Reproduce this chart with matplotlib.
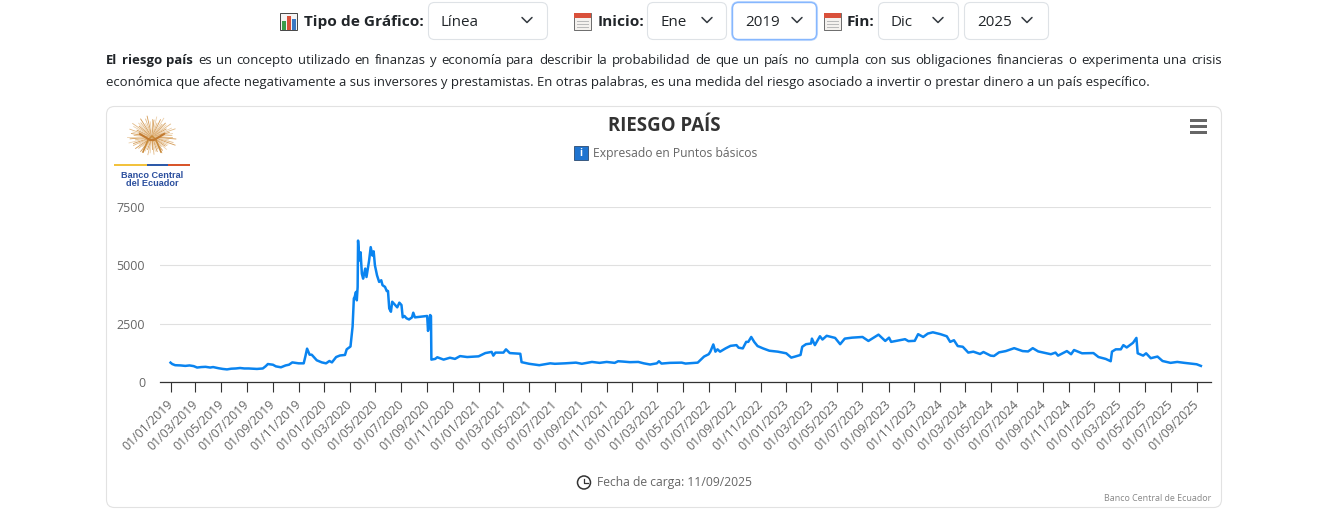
import matplotlib
matplotlib.use("Agg")
import matplotlib.pyplot as plt
from matplotlib.patches import FancyBboxPatch, Rectangle, Circle
from matplotlib.transforms import ScaledTranslation
from datetime import date
import math

plt.rcParams['font.family'] = ['Open Sans', 'DejaVu Sans']

# ---------- data ----------
series_2019 = [("2019-01-01",830),("2019-01-05",770),("2019-01-12",720),("2019-01-25",710),("2019-02-05",690),("2019-02-15",710),("2019-02-25",680),
 ("2019-03-05",620),("2019-03-15",640),("2019-03-25",650),("2019-04-05",620),("2019-04-12",640),("2019-04-25",590),("2019-05-05",560),("2019-05-15",540),
 ("2019-05-25",570),("2019-06-05",580),("2019-06-15",600),("2019-06-25",580),("2019-07-05",580),("2019-07-15",570),("2019-07-25",560),("2019-08-08",580),
 ("2019-08-15",680),("2019-08-20",770),("2019-09-01",740),("2019-09-08",670),("2019-09-20",630),("2019-10-01",710),("2019-10-09",740),("2019-10-17",840),
 ("2019-11-01",800),("2019-11-13",800),("2019-11-17",1100),("2019-11-21",1430),("2019-11-27",1170),("2019-12-02",1170),("2019-12-14",930),("2019-12-26",840)]
series_2020 = [("2020-01-05",800),("2020-01-13",900),("2020-01-19",840),("2020-01-29",1070),("2020-02-07",1136),("2020-02-19",1160),("2020-02-23",1400),
 ("2020-03-03",1520),("2020-03-08",2370),("2020-03-11",3580),("2020-03-13",3650),("2020-03-16",3860),("2020-03-18",3500),("2020-03-20",4070),("2020-03-21",6060),
 ("2020-03-24",5210),("2020-03-27",5560),("2020-03-30",4640),("2020-04-02",4430),("2020-04-07",4860),("2020-04-10",4500),("2020-04-16",5180),("2020-04-20",5780),
 ("2020-04-24",5420),("2020-04-27",5600),("2020-04-30",5000),("2020-05-05",4570),("2020-05-10",4290),("2020-05-15",4360),("2020-05-18",4150),("2020-05-24",4075),
 ("2020-05-28",3900),("2020-05-31",3900),("2020-06-03",3150),("2020-06-07",3010),("2020-06-10",3440),("2020-06-15",3340),("2020-06-22",3200),("2020-06-27",3400),
 ("2020-07-02",3300),("2020-07-05",2770),("2020-07-09",2830),("2020-07-14",2730),("2020-07-20",2680),("2020-07-27",2770),("2020-07-30",2970),("2020-08-03",2770),
 ("2020-09-01",2830),("2020-09-03",2190),("2020-09-05",2370),("2020-09-08",2870),("2020-09-10",2830),("2020-09-11",960),("2020-09-20",990),("2020-09-25",1060),
 ("2020-10-10",960),("2020-10-25",1040),("2020-11-06",990),("2020-11-18",1110),("2020-12-05",1070)]
series_2021 = [("2021-01-01",1100),("2021-01-17",1240),("2021-02-01",1290),("2021-02-05",1130),("2021-02-10",1260),("2021-03-01",1260),("2021-03-07",1400),
 ("2021-03-16",1240),("2021-04-10",1210),("2021-04-13",850),("2021-05-01",780),("2021-05-25",720),("2021-06-20",800),("2021-07-01",780),("2021-07-25",800),
 ("2021-08-20",830),("2021-09-03",780),("2021-09-27",860),("2021-10-15",820),("2021-11-01",860),("2021-11-20",820),("2021-11-28",890),("2021-12-10",875),("2021-12-26",850)]
series_2022 = [("2022-01-15",860),("2022-01-28",800),("2022-02-12",750),("2022-02-28",800),("2022-03-05",890),("2022-03-11",790),("2022-03-31",820),("2022-04-28",830),
 ("2022-05-07",790),("2022-06-05",830),("2022-06-12",950),("2022-06-20",1090),("2022-07-01",1190),("2022-07-05",1300),("2022-07-12",1610),("2022-07-17",1300),
 ("2022-07-22",1400),("2022-07-28",1300),("2022-08-10",1440),("2022-08-22",1550),("2022-09-05",1580),("2022-09-10",1470),("2022-09-20",1440),("2022-09-28",1720),
 ("2022-10-03",1720),("2022-10-10",1930),("2022-10-17",1720),("2022-10-25",1540),("2022-11-07",1440),("2022-11-22",1340),("2022-12-12",1300)]
series_2023 = [("2023-01-01",1230),("2023-01-13",1045),("2023-01-22",1090),("2023-02-04",1160),("2023-02-08",1510),("2023-02-17",1620),("2023-03-01",1650),("2023-03-03",1860),
 ("2023-03-10",1580),("2023-03-22",1960),("2023-03-28",1820),("2023-04-07",1980),("2023-04-27",1890),("2023-05-09",1620),("2023-05-20",1860),("2023-06-06",1900),
 ("2023-07-01",1930),("2023-07-15",1760),("2023-08-08",2030),("2023-08-24",1760),("2023-09-02",1900),("2023-09-07",1720),("2023-10-10",1835),("2023-10-18",1750),
 ("2023-11-02",1765),("2023-11-10",2050),("2023-11-22",1930),("2023-12-03",2075),("2023-12-15",2130)]
series_2024 = [("2024-01-02",2050),("2024-01-17",1960),("2024-01-25",1720),("2024-02-03",1790),("2024-02-12",1540),("2024-02-24",1510),("2024-03-08",1260),("2024-03-20",1300),
 ("2024-04-05",1200),("2024-04-13",1285),("2024-04-30",1130),("2024-05-08",1115),("2024-05-20",1270),("2024-06-05",1325),("2024-06-25",1450),("2024-07-15",1325),
 ("2024-07-28",1310),("2024-08-08",1450),("2024-08-21",1310),("2024-09-20",1190),("2024-10-01",1260),("2024-10-07",1130),("2024-10-28",1325),("2024-11-07",1190),
 ("2024-11-14",1370),("2024-12-03",1230),("2024-12-30",1240)]
series_2025 = [("2025-01-11",1070),("2025-01-28",990),("2025-02-09",890),("2025-02-12",1300),("2025-02-21",1400),("2025-03-05",1400),("2025-03-11",1580),("2025-03-19",1480),
 ("2025-04-03",1680),("2025-04-11",1890),("2025-04-14",1230),("2025-04-27",1130),("2025-05-04",1230),("2025-05-15",1020),("2025-05-31",1090),("2025-06-12",900),
 ("2025-07-01",820),("2025-07-17",860),("2025-08-03",820),("2025-09-01",760),("2025-09-11",690)]
x_tick_labels = [f"01/{m:02d}/{y}" for y in range(2019, 2026) for m in range(1, 13, 2) if not (y == 2025 and m > 9)]
y_ticks = [0, 2500, 5000, 7500]

W, H = 1343, 509
fig = plt.figure(figsize=(W/100, H/100), dpi=100, facecolor="white")
ui = fig.add_axes([0, 0, 1, 1], zorder=0)
ui.set_xlim(0, W); ui.set_ylim(H, 0); ui.axis("off")

def txt(x, y, s, size=10, color="#212529", ha="left", weight="normal", va="center", **kw):
    return ui.text(x, y + 1, s, fontsize=size, color=color, ha=ha, va=va, fontweight=weight, **kw)

def rbox(x0, y0, x1, y1, r=6, ec="#dee2e6", fc="white", lw=0.8, z=1):
    p = FancyBboxPatch((x0+r+0.5, y0+r+0.5), x1-x0-2*r-1, y1-y0-2*r-1, boxstyle=f"round,pad={r},rounding_size={r}",
                       ec=ec, fc=fc, lw=lw, zorder=z, mutation_aspect=1)
    ui.add_patch(p)

def chevron(x, y):
    ui.plot([x-5, x, x+5], [y-2.5, y+2.5, y-2.5], color="#343a40", lw=1.1, solid_capstyle="round", zorder=3)

def calendar(x, y):
    ui.add_patch(Rectangle((x, y-8), 17, 17, fc="#f4f1ee", ec="#555555", lw=0.6, zorder=3))
    ui.add_patch(Rectangle((x, y-8), 17, 5, fc="#d9503a", ec="none", zorder=4))
    for i in range(3):
        ui.plot([x+3, x+14], [y+i*3-0.5]*2, color="#b9b9b9", lw=0.7, zorder=4)

# selects
txt(304, 21, "Tipo de Gráfico:", 11.1, weight="bold")
ui.add_patch(Rectangle((280, 13), 17, 17, fc="#f4f4f4", ec="#444444", lw=0.7, zorder=3))
for bx, bh, bc in [(282, 9, "#3a9c4a"), (287, 14, "#d9503a"), (292, 11, "#3b78c2")]:
    ui.add_patch(Rectangle((bx, 29.5-bh), 3.8, bh, fc=bc, ec="none", zorder=4))
calendar(574, 21); txt(598, 21, "Inicio:", 11.1, weight="bold")
calendar(824, 21); txt(847, 21, "Fin:", 11.1, weight="bold")
ui.add_patch(FancyBboxPatch((736, 6), 77, 30, boxstyle="round,pad=4,rounding_size=7", fc="#c2dbfe", ec="#c2dbfe", lw=1.5, zorder=1))
selects = [(428, 548, "Línea", 527), (647, 727, "Ene", 707), (732, 817, "2019", 797), (878, 959, "Dic", 938), (964, 1049, "2025", 1027)]
for x0, x1, lab, cx in selects:
    focus = lab == "2019"
    rbox(x0, 2, x1, 40, ec="#86b7fe" if focus else "#dee2e6", lw=1.0 if focus else 0.8, z=2)
    txt(x0+13, 21, lab, 10.9, zorder=3)
    chevron(cx, 20)

# paragraph, justified first line
line1 = [("El", True), ("riesgo", True), ("país", True)] + [(w, False) for w in
    "es un concepto utilizado en finanzas y economía para describir la probabilidad de que un país no cumpla con sus obligaciones financieras o experimenta una crisis".split()]
PS = 9.45
r = fig.canvas.get_renderer()
items = [txt(0, 59, w, PS, weight="bold" if b else "normal") for w, b in line1]
widths = [t.get_window_extent(r).width for t in items]
gap = (1222 - 106 - sum(widths)) / (len(items) - 1)
xp = 106
for t, wd in zip(items, widths):
    t.set_x(xp); xp += wd + gap
txt(106, 81, "económica que afecte negativamente a sus inversores y prestamistas. En otras palabras, es una medida del riesgo asociado a invertir o prestar dinero a un país específico.", PS)

# card
rbox(106, 106, 1222, 508, r=8, ec="#e2e2e2", lw=0.8, z=0.5)
txt(664, 125, "RIESGO PAÍS", 13.45, color="#333333", ha="center", weight="bold")
ui.add_patch(Rectangle((574, 146), 14, 14, fc="#1f74d0", ec="#2b4a70", lw=0.6, zorder=3))
txt(581, 152.5, "i", 7, color="white", ha="center", weight="bold", zorder=4)
txt(593, 152, "Expresado en Puntos básicos", 8.7, color="#666666")
for yy in (120.5, 126.5, 132.5):
    ui.add_patch(Rectangle((1190, yy-1.5), 17, 3, fc="#666666", ec="none", zorder=3))
ui.add_patch(Circle((584, 482.5), 6.5, fc="white", ec="#333333", lw=1.1, zorder=3))
ui.plot([584, 584, 587.5], [478.5, 483, 483], color="#333333", lw=0.9, zorder=4)
txt(597, 481.5, "Fecha de carga: 11/09/2025", 8.75, color="#666666")
txt(1211, 497.5, "Banco Central de Ecuador", 6.4, color="#888888", ha="right")

# logo
ray_cols = ["#e2b984", "#d39a55", "#ecd0ab"]
ray_len = (20, 24, 17, 22, 25, 18, 21)
for i in range(64):
    a = math.radians(i * 360 / 64)
    L = ray_len[i % 7] * (0.85 if math.sin(a) > 0.5 else 1.0)
    ui.plot([152, 152 + L*math.cos(a)], [137, 137 + L*0.85*math.sin(a)], color=ray_cols[i % 3], lw=0.6, zorder=2)
ui.plot([143, 148, 152, 156, 161], [152, 140, 136, 140, 152], color="#c98a3a", lw=1.2, zorder=3)
ui.plot([140, 150, 154, 164], [134, 140, 140, 134], color="#c27a30", lw=1.5, zorder=3)
ui.add_patch(Rectangle((114, 163.5), 33, 2, fc="#f2c23e", ec="none"))
ui.add_patch(Rectangle((147, 163.5), 21, 2, fc="#2e5aa8", ec="none"))
ui.add_patch(Rectangle((168, 163.5), 22, 2, fc="#d8552b", ec="none"))
txt(152, 174, "Banco Central", 6.6, color="#2b4f9e", ha="center", weight="bold", family="Liberation Sans")
txt(152, 182, "del Ecuador", 6.6, color="#2b4f9e", ha="center", weight="bold", family="Liberation Sans")

# chart
ax = fig.add_axes([160/W, 1-382/H, (1211-160)/W, (382-207)/H], zorder=2)
ax.patch.set_alpha(0)
rows = series_2019 + series_2020 + series_2021 + series_2022 + series_2023 + series_2024 + series_2025
dates = [date.fromisoformat(d) for d, _ in rows]
values = [v for _, v in rows]
ax.plot(dates, values, color="#0a84f0", lw=1.8, solid_joinstyle="round", zorder=3, clip_on=False)
ax.set_xlim(date(2018, 12, 7), date(2025, 10, 5))
ax.set_ylim(0, 7500)
ax.set_yticks(y_ticks)
ax.set_yticklabels([str(v) for v in y_ticks], fontsize=9, color="#666666")
ticks = [date(int(s[6:]), int(s[3:5]), 1) for s in x_tick_labels]
ax.set_xticks(ticks)
ax.set_xticklabels(x_tick_labels, rotation=45, ha="right", rotation_mode="anchor", fontsize=8.8, color="#666666")
ax.tick_params(axis="x", length=7, width=0.8, color="#333333", pad=3)
ax.tick_params(axis="y", length=0, pad=10.7)
off = ScaledTranslation(-4/100, -2/100, fig.dpi_scale_trans)
for lb in ax.get_xticklabels():
    lb.set_transform(lb.get_transform() + off)
ax.grid(axis="y", color="#e0e0e0", lw=0.8)
ax.set_axisbelow(True)
for s in ("top", "left", "right"):
    ax.spines[s].set_visible(False)
ax.spines["bottom"].set_color("#333333"); ax.spines["bottom"].set_linewidth(0.9)
fig.savefig("out.png", dpi=100)
